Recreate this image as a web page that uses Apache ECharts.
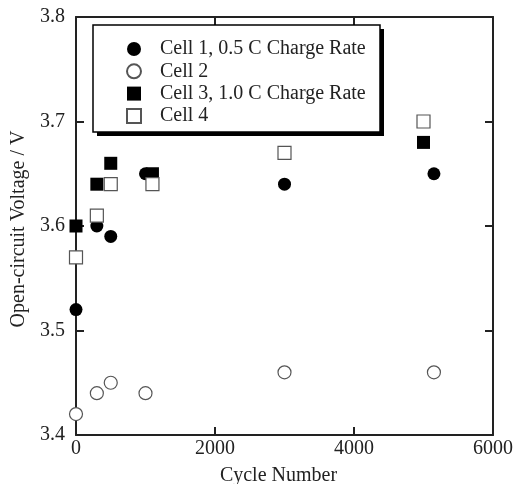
<!DOCTYPE html>
<html><head><meta charset="utf-8">
<script src="https://cdn.jsdelivr.net/npm/echarts@6/dist/echarts.min.js"></script>
<style>html,body{margin:0;padding:0;background:#fff}#c{width:515px;height:484px}</style>
</head><body><div id="c"></div>
<script>
const seriesNames = ['Cell 1, 0.5 C Charge Rate', 'Cell 2', 'Cell 3, 1.0 C Charge Rate', 'Cell 4'];
const cell1 = [[0, 3.52], [300, 3.60], [500, 3.59], [1000, 3.65], [3000, 3.64], [5150, 3.65]];
const cell2 = [[0, 3.42], [300, 3.44], [500, 3.45], [1000, 3.44], [3000, 3.46], [5150, 3.46]];
const cell3 = [[0, 3.60], [300, 3.64], [500, 3.66], [1100, 3.65], [5000, 3.68]];
const cell4 = [[0, 3.57], [300, 3.61], [500, 3.64], [1100, 3.64], [3000, 3.67], [5000, 3.70]];
const xName = 'Cycle Number';
const yName = 'Open-circuit Voltage / V';

const FONT = '"Liberation Serif", "Times New Roman", serif';
const chart = echarts.init(document.getElementById('c'), null, {renderer: 'canvas'});
const mkLine = () => ({show: true, onZero: false, lineStyle: {color: '#222', width: 2}});
const mkTick = () => ({show: true, inside: true, length: 8, lineStyle: {color: '#222', width: 2}});
const filled = {color: '#000', borderColor: '#000', borderWidth: 0, opacity: 1};
const open = {color: '#fff', borderColor: '#555', borderWidth: 1.2, opacity: 1};
chart.setOption({
  animation: false,
  grid: {left: 76, top: 17, right: 22, bottom: 49, containLabel: false, outerBoundsMode: 'none'},
  textStyle: {fontFamily: FONT},
  graphic: [
    {type: 'rect', z: 3, shape: {x: 97, y: 29, width: 287, height: 107}, style: {fill: '#000'}},
    {type: 'rect', z: 3, shape: {x: 93, y: 25, width: 287, height: 107}, style: {fill: '#fff', stroke: '#000', lineWidth: 1.5}}
  ],
  legend: {
    orient: 'vertical', left: 121, top: 33, z: 5,
    itemWidth: 14, itemHeight: 14, itemGap: 0.3,
    textStyle: {fontFamily: FONT, fontSize: 20, color: '#222', lineHeight: 22, padding: [0, 0, 0, 14]},
    data: seriesNames
  },
  xAxis: [
    {type: 'value', min: 0, max: 6000, interval: 2000, position: 'bottom',
     name: xName, nameLocation: 'middle', nameGap: 31,
     nameTextStyle: {fontFamily: FONT, fontSize: 20, color: '#222', padding: [0, 12, 0, 0]},
     axisLine: mkLine(), axisTick: mkTick(), splitLine: {show: false},
     axisLabel: {fontFamily: FONT, fontSize: 20, color: '#222', margin: 4, formatter: v => String(v)}},
    {type: 'value', min: 0, max: 6000, interval: 2000, position: 'top',
     axisLine: mkLine(), axisTick: mkTick(), splitLine: {show: false}, axisLabel: {show: false}}
  ],
  yAxis: [
    {type: 'value', min: 3.4, max: 3.8, interval: 0.1, position: 'left',
     name: yName, nameLocation: 'middle', nameGap: 47, nameRotate: 90,
     nameTextStyle: {fontFamily: FONT, fontSize: 20, color: '#222', padding: [0, 6, 0, 0]},
     axisLine: mkLine(), axisTick: mkTick(), splitLine: {show: false},
     axisLabel: {fontFamily: FONT, fontSize: 20, color: '#222', margin: 11, formatter: v => v.toFixed(1)}},
    {type: 'value', min: 3.4, max: 3.8, interval: 0.1, position: 'right',
     axisLine: mkLine(), axisTick: mkTick(), splitLine: {show: false}, axisLabel: {show: false}}
  ],
  series: [
    {name: seriesNames[0], type: 'scatter', data: cell1, symbol: 'circle', symbolSize: 13, itemStyle: filled, z: 2},
    {name: seriesNames[1], type: 'scatter', data: cell2, symbol: 'circle', symbolSize: 13, itemStyle: open, z: 2},
    {name: seriesNames[2], type: 'scatter', data: cell3, symbol: 'rect', symbolSize: 13, itemStyle: filled, z: 2},
    {name: seriesNames[3], type: 'scatter', data: cell4, symbol: 'rect', symbolSize: 13, itemStyle: open, z: 3}
  ]
});
</script></body></html>
